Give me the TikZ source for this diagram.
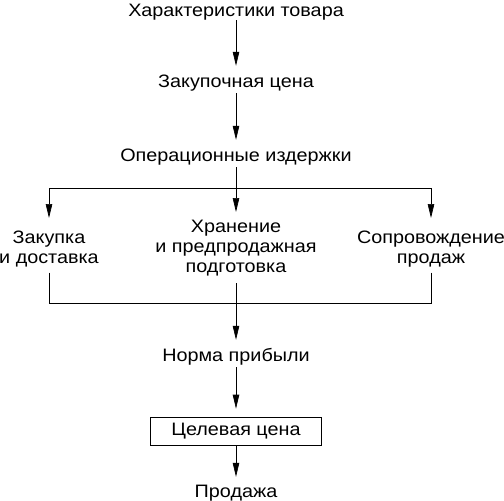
\documentclass[tikz,border=0pt]{standalone}
\usepackage{fontspec}
\setmainfont{Liberation Sans}[FakeStretch=1.1]
\usetikzlibrary{arrows.meta}

\begin{document}
\begin{tikzpicture}[x=1pt,y=-1pt,
                lbl/.style={font=\fontsize{18}{20}\selectfont,inner sep=0pt,text height=13pt,text depth=4pt,anchor=base},
                multi/.style={font=\fontsize{18}{20}\selectfont,inner sep=0pt,align=center,anchor=north},
                arr/.style={line width=0.7pt,-{Triangle[length=14pt,width=6.5pt]},shorten >=8pt},
                ln/.style={line width=0.7pt}]
                \useasboundingbox (0,0) rectangle (504,501);
                \node[lbl] (har) at (236,16) {Характеристики товара};
                \node[lbl] (zak) at (236,87) {Закупочная цена};
                \node[lbl] (oper) at (236,161) {Операционные издержки};
                \node[multi] (dost) at (49,231) {Закупка\\и доставка};
                \node[multi] (hran) at (236,220) {Хранение\\и предпродажная\\подготовка};
                \node[multi] (sopr) at (431,231) {Сопровождение\\продаж};
                \node[lbl] (norma) at (236,361) {Норма прибыли};
                \node[lbl,anchor=center,draw,line width=0.7pt,minimum width=171pt,minimum height=28pt] (cel) at (236,431) {Целевая цена};
                \node[lbl] (prod) at (236,497) {Продажа};
                \coordinate (up) at (236,188);
                \coordinate (down) at (236,303);
                \draw[arr] (har) -- (zak);
                \draw[arr,shorten <=2pt] (zak) -- (oper);
                \draw[arr,shorten <=2pt] (oper) -- (hran);
                \draw[arr,shorten >=13pt] (up) -| (dost.north);
                \draw[arr,shorten >=13pt] (up) -| (sopr.north);
                \draw[ln,shorten <=5pt] (dost.south) |- (down);
                \draw[ln,shorten <=5pt] (sopr.south) |- (down);
                \draw[arr,shorten <=7pt] (hran) -- (norma);
                \draw[arr,shorten <=2pt] (norma) -- (cel);
                \draw[arr,shorten >=7pt] (cel) -- (prod);
              \end{tikzpicture}
\end{document}
